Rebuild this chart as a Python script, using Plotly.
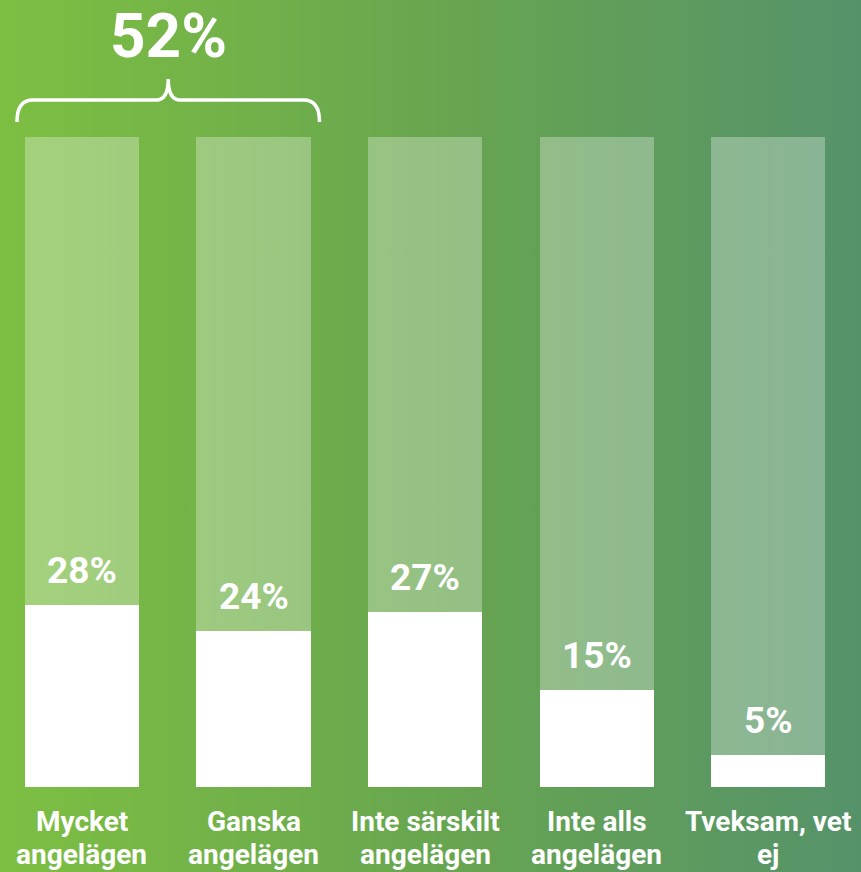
import base64
import plotly.graph_objects as go

categories = ["Mycket<br>angelägen", "Ganska<br>angelägen", "Inte särskilt<br>angelägen",
              "Inte alls<br>angelägen", "Tveksam, vet<br>ej"]
values = [28, 24, 27, 15, 5]
full_scale = [100, 100, 100, 100, 100]
total_label = "52%"

W, H = 861, 872
PX_PER_UNIT = 6.5
ZERO_PX = 787
x_positions = list(range(len(categories)))
bar_w = 0.665
x_lo, x_hi = -0.478, 4.542
y_top = ZERO_PX / PX_PER_UNIT
y_bot = -(H - ZERO_PX) / PX_PER_UNIT

# gradient background as SVG image
svg = f'''<svg xmlns="http://www.w3.org/2000/svg" width="{W}" height="{H}" preserveAspectRatio="none">
<defs><linearGradient id="g" x1="0" y1="0" x2="1" y2="0">
<stop offset="0" stop-color="#7dbf42"/><stop offset="0.5" stop-color="#68a64f"/><stop offset="1" stop-color="#55926a"/>
</linearGradient></defs><rect width="{W}" height="{H}" fill="url(#g)"/></svg>'''
src = "data:image/svg+xml;base64," + base64.b64encode(svg.encode()).decode()

fig = go.Figure()
fig.add_trace(go.Bar(x=x_positions, y=full_scale, width=bar_w,
                     marker=dict(color="rgba(255,255,255,0.3)", line=dict(width=0)),
                     hoverinfo="skip", showlegend=False))
fig.add_trace(go.Bar(x=x_positions, y=values, width=bar_w,
                     marker=dict(color="#ffffff", line=dict(width=0)),
                     showlegend=False))

annotations = []
for xi, v in zip(x_positions, values):
    annotations.append(dict(x=xi, y=v, xref="x", yref="y", text=f"{v}%", showarrow=False,
                            yanchor="bottom", yshift=11,
                            font=dict(family="Roboto", size=37, color="white", weight="bold")))
for xi, c in zip(x_positions, categories):
    for li, line in enumerate(c.split("<br>")):
        annotations.append(dict(x=xi, y=0, xref="x", yref="y", text=line, showarrow=False,
                                yanchor="top", yshift=-16 - 33 * li,
                                font=dict(family="Roboto", size=28, color="white", weight="bold")))

# brace over first two bars
u = 1 / 171.5
bx0 = x_positions[0] - bar_w / 2 - 8 * u
bx1 = x_positions[1] + bar_w / 2 + 9 * u
bxc = (bx0 + bx1) / 2
y_end = (ZERO_PX - 122) / PX_PER_UNIT
y_mid = (ZERO_PX - 100) / PX_PER_UNIT
y_tip = (ZERO_PX - 79) / PX_PER_UNIT
r = 16 * u
rc = 12 * u
path = (f"M {bx0},{y_end} Q {bx0},{y_mid} {bx0 + r},{y_mid} L {bxc - rc},{y_mid} "
        f"Q {bxc},{y_mid} {bxc},{y_tip} Q {bxc},{y_mid} {bxc + rc},{y_mid} "
        f"L {bx1 - r},{y_mid} Q {bx1},{y_mid} {bx1},{y_end}")
shapes = [dict(type="path", path=path, xref="x", yref="y",
               line=dict(color="white", width=3.5), layer="above")]

annotations.append(dict(x=bxc, y=(ZERO_PX - 35) / PX_PER_UNIT, xref="x", yref="y",
                        text=total_label, showarrow=False, yanchor="middle",
                        font=dict(family="Roboto", size=62, color="white", weight="bold")))

fig.update_layout(
    width=W, height=H, margin=dict(l=0, r=0, t=0, b=0),
    barmode="overlay", bargap=0,
    paper_bgcolor="#68a64f", plot_bgcolor="rgba(0,0,0,0)",
    xaxis=dict(range=[x_lo, x_hi], visible=False, fixedrange=True),
    yaxis=dict(range=[y_bot, y_top], visible=False, fixedrange=True),
    images=[dict(source=src, xref="paper", yref="paper", x=0, y=1, sizex=1, sizey=1,
                 sizing="stretch", layer="below", xanchor="left", yanchor="top")],
    annotations=annotations, shapes=shapes,
)
fig.write_html("out.html", config={"displayModeBar": False},
               post_script="document.body.style.margin='0';document.body.style.overflow='hidden';")
